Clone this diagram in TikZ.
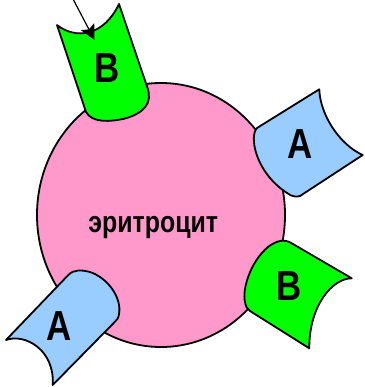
\documentclass[tikz,border=0pt]{standalone}
\usepackage{fontspec}
\setmainfont{Liberation Sans}
\usetikzlibrary{arrows.meta}
\definecolor{cellpink}{HTML}{FF99CC}
\definecolor{recblue}{HTML}{99CCFF}
\definecolor{recgreen}{HTML}{00FF00}
\tikzset{
  outline/.style={draw=black, line width=1.8pt, line join=round},
  letter/.style={inner sep=0pt, anchor=base,
    font=\bfseries\fontsize{42}{42}\selectfont},
  cellname/.style={inner sep=0pt, anchor=base,
    font=\bfseries\fontsize{30}{30}\selectfont}
}
\newcommand{\narrow}[1]{\scalebox{0.83}[1]{#1}}
\begin{document}
\begin{tikzpicture}[x=1pt, y=-1pt]
\useasboundingbox (0,0) rectangle (364,387);

% red blood cell
\path[outline, fill=cellpink] (161,215) ellipse [x radius=124pt, y radius=132pt];
\node[cellname] (cell) at (153.3,232) {\narrow{эритроцит}};

% receptor B, top
\path[outline, fill=recgreen]
  (57,25) .. controls (76,40) and (104,36) .. (119,4)
  -- (147.3,87.3) .. controls (153,103) and (144,113) .. (125,118.5)
  .. controls (110,122) and (92,123) .. (86,112) -- cycle;
\node[letter] (bTop) at (107,83) {\narrow{B}};

% receptor A, right
\path[outline, fill=recblue]
  (319.3,89.3) .. controls (320,115) and (340,145) .. (362.7,155)
  -- (300,196) .. controls (297,197) and (292,197) .. (287,193)
  .. controls (255,172) and (249,136) .. (257,128) -- cycle;
\node[letter] (aRight) at (300.5,158.3) {\narrow{A}};

% receptor B, lower right
\path[outline, fill=recgreen]
  (351.7,278.3) -- (291.7,243.3) .. controls (285,239) and (277,240) .. (268,247)
  .. controls (250,262) and (242,290) .. (245,302)
  .. controls (246,307) and (247,309) .. (250,311)
  -- (309.3,348.3) .. controls (309,305) and (333,278) .. (351.7,278.3) -- cycle;
\node[letter] (bLow) at (289,300) {\narrow{B}};

% receptor A, lower left
\path[outline, fill=recblue]
  (6,340) -- (68.3,275) .. controls (74,269) and (82,270) .. (90,272)
  .. controls (108,278) and (122,298) .. (119,314)
  .. controls (118.5,318) and (117,320) .. (115,321.7)
  -- (52.7,385) .. controls (55,350) and (25,333) .. (6,340) -- cycle;
\node[letter] (aLow) at (59.2,340) {\narrow{A}};

% incoming arrow
\coordinate (src) at (72.5,-2);
\coordinate (tip) at (94.5,40);
\draw[line width=1.2pt, -{Stealth[length=15pt, width=15pt, inset=3pt]}] (src) -- (tip);
\end{tikzpicture}
\end{document}
